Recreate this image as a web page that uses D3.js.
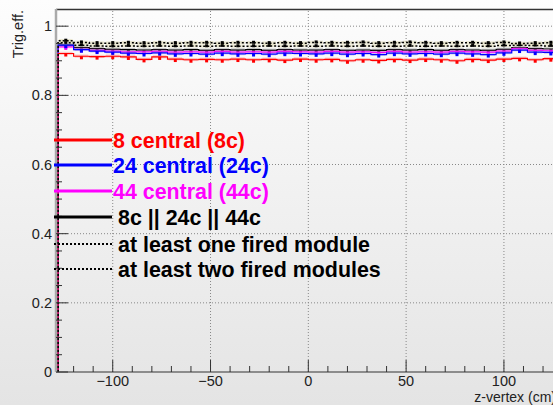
<!DOCTYPE html>
<html>
<head>
<meta charset="utf-8">
<script src="https://cdn.jsdelivr.net/npm/d3@7"></script>
<style>
  body { margin: 0; }
  svg { font-family: "Liberation Sans", Arial, sans-serif; }
</style>
</head>
<body>
<svg id="chart"></svg>
<script>
// bins: 8 cm wide, starting at -128 cm
const binStart = -128, binWidth = 8;
const xTicks = [-100, -50, 0, 50, 100];
const yTicks = [0, 0.2, 0.4, 0.6, 0.8, 1];
const yTickLabels = ['0', '0.2', '0.4', '0.6', '0.8', '1'];

const eff8c = [0.921, 0.913, 0.912, 0.913, 0.911, 0.904, 0.911, 0.905, 0.903, 0.904, 0.903, 0.905, 0.903, 0.904, 0.902, 0.905,
               0.903, 0.904, 0.900, 0.903, 0.901, 0.904, 0.902, 0.905, 0.903, 0.900, 0.904, 0.902, 0.905, 0.907, 0.903, 0.906];
const eff24c = [0.945, 0.932, 0.928, 0.925, 0.922, 0.921, 0.923, 0.920, 0.921, 0.919, 0.922, 0.920, 0.921, 0.919, 0.922, 0.921,
                0.920, 0.922, 0.919, 0.921, 0.918, 0.922, 0.920, 0.921, 0.919, 0.922, 0.920, 0.918, 0.923, 0.931, 0.925, 0.924];
const eff44c = [0.940, 0.933, 0.930, 0.928, 0.926, 0.926, 0.927, 0.925, 0.926, 0.925, 0.927, 0.925, 0.926, 0.925, 0.927, 0.926,
                0.925, 0.927, 0.925, 0.926, 0.924, 0.927, 0.925, 0.926, 0.925, 0.927, 0.926, 0.925, 0.928, 0.935, 0.930, 0.929];
const effOr = [0.945, 0.938, 0.935, 0.933, 0.932, 0.931, 0.932, 0.931, 0.932, 0.930, 0.932, 0.931, 0.932, 0.930, 0.932, 0.931,
               0.931, 0.932, 0.930, 0.931, 0.930, 0.932, 0.931, 0.932, 0.930, 0.932, 0.931, 0.930, 0.933, 0.938, 0.935, 0.934];
const effOne = [0.958, 0.953, 0.951, 0.951, 0.952, 0.951, 0.952, 0.951, 0.952, 0.952, 0.951, 0.952, 0.952, 0.951, 0.952, 0.951,
                0.953, 0.952, 0.952, 0.953, 0.951, 0.952, 0.953, 0.952, 0.951, 0.952, 0.952, 0.951, 0.953, 0.950, 0.951, 0.952];
const effTwo = [0.952, 0.945, 0.943, 0.942, 0.943, 0.942, 0.943, 0.942, 0.943, 0.942, 0.943, 0.942, 0.942, 0.943, 0.942, 0.943,
                0.942, 0.943, 0.942, 0.943, 0.942, 0.942, 0.943, 0.942, 0.943, 0.942, 0.943, 0.942, 0.944, 0.945, 0.944, 0.943];

const seriesNames = ['8 central (8c)', '24 central (24c)', '44 central (44c)', '8c || 24c || 44c',
                     'at least one fired module', 'at least two fired modules'];

var W = 553, H = 405,
    margin = {top: 9, left: 56, bottom: 33};

var series = [
    {name: seriesNames[0], values: eff8c, color: '#ff0000', band: '#ff6666', dash: null},
    {name: seriesNames[1], values: eff24c, color: '#0000ff', band: '#8888dd', dash: null},
    {name: seriesNames[2], values: eff44c, color: '#ff00ff', band: '#ff88ff', dash: null},
    {name: seriesNames[3], values: effOr, color: '#000000', band: '#666666', dash: null},
    {name: seriesNames[4], values: effOne, color: '#000000', band: '#c8c080', dash: '2,2'},
    {name: seriesNames[5], values: effTwo, color: '#000000', band: '#d4cc8c', dash: '2,2'}
];

var svg = d3.select('#chart').attr('width', W).attr('height', H);

var grad = svg.append('defs').append('linearGradient')
    .attr('id', 'bg').attr('x1', 0).attr('y1', 0).attr('x2', 0).attr('y2', 1);
grad.append('stop').attr('offset', '0%').attr('stop-color', '#fdfdfd');
grad.append('stop').attr('offset', '100%').attr('stop-color', '#e4e4e4');
svg.append('rect').attr('width', W).attr('height', H).attr('fill', 'url(#bg)');

var x = d3.scaleLinear().domain([-129, 129]).range([margin.left, margin.left + 258 * 1.956]);
var y = d3.scaleLinear().domain([0, 1.0497]).range([H - margin.bottom, margin.top]);

// grid
svg.append('g').selectAll('line.gx')
    .data(xTicks).enter().append('line')
    .attr('x1', d => x(d)).attr('x2', d => x(d))
    .attr('y1', y(0)).attr('y2', y.range()[1])
    .attr('stroke', '#888').attr('stroke-width', 1).attr('stroke-dasharray', '1,2');
svg.append('g').selectAll('line.gy')
    .data(yTicks.slice(1)).enter().append('line')
    .attr('x1', x.range()[0]).attr('x2', W)
    .attr('y1', d => y(d)).attr('y2', d => y(d))
    .attr('stroke', '#888').attr('stroke-width', 1).attr('stroke-dasharray', '1,2');

// frame top
svg.append('line')
    .attr('x1', x.range()[0]).attr('x2', W)
    .attr('y1', y.range()[1] + 0.5).attr('y2', y.range()[1] + 0.5)
    .attr('stroke', '#333').attr('stroke-width', 1.5);

var plot = svg.append('g');

function stepPath(vals) {
    var p = d3.path();
    p.moveTo(x(binStart), y(0));
    vals.forEach(function(v, i) {
        var x0 = x(binStart + i * binWidth), x1 = x(binStart + (i + 1) * binWidth);
        p.lineTo(x0, y(v));
        p.lineTo(x1, y(v));
    });
    return p.toString();
}

// solid ones first, red on top of them; dotted ones drawn last
var drawOrder = [3, 2, 1, 0, 5, 4];
drawOrder.forEach(function(k) {
    var s = series[k];
    var g = plot.append('g');
    // error boxes
    g.selectAll('rect').data(s.values).enter().append('rect')
        .attr('x', (d, i) => x(binStart + i * binWidth) + 1)
        .attr('width', x(binWidth) - x(0) - 2)
        .attr('y', d => y(d + 0.005))
        .attr('height', d => y(d - 0.004) - y(d + 0.005))
        .attr('fill', s.band).attr('opacity', 0.35);
    g.append('path')
        .attr('d', stepPath(s.values))
        .attr('fill', 'none')
        .attr('stroke', s.color)
        .attr('stroke-width', s.dash ? 1.5 : 1.2)
        .attr('stroke-dasharray', s.dash);
    // markers
    g.selectAll('rect.m').data(s.values).enter().append('rect')
        .attr('class', 'm')
        .attr('x', (d, i) => x(binStart + (i + 0.5) * binWidth) - 1.5)
        .attr('y', d => y(d) + (s.dash ? -2 : 0))
        .attr('width', 3).attr('height', 3)
        .attr('fill', s.color);
});

// axes
var xAxis = svg.append('g').attr('transform', 'translate(0,' + y(0) + ')');
xAxis.append('line').attr('x1', x.range()[0]).attr('x2', W).attr('stroke', '#333').attr('stroke-width', 1.2);
xAxis.selectAll('line.minor').data(d3.range(-120, 130, 10)).enter().append('line')
    .attr('x1', d => x(d)).attr('x2', d => x(d))
    .attr('y1', 0).attr('y2', d => d % 50 === 0 ? -12 : -6)
    .attr('stroke', '#333').attr('stroke-width', 1);
xAxis.selectAll('text').data(xTicks).enter().append('text')
    .attr('x', d => x(d)).attr('y', 14)
    .attr('text-anchor', 'middle')
    .attr('font-size', 14.5).attr('fill', '#222')
    .text(d => d3.format('d')(d).replace('-', '\u2212'));
svg.append('text')
    .attr('x', 556).attr('y', 402)
    .attr('text-anchor', 'end').attr('font-size', 14).attr('fill', '#222')
    .text('z-vertex (cm)');

var yAxis = svg.append('g').attr('transform', 'translate(' + x.range()[0] + ',0)');
yAxis.append('line').attr('y1', y(0)).attr('y2', y.range()[1])
    .attr('stroke', '#aaa').attr('stroke-width', 2.5);
yAxis.selectAll('line.minor').data(d3.range(0, 1.05, 0.05)).enter().append('line')
    .attr('y1', d => y(d)).attr('y2', d => y(d))
    .attr('x1', 0).attr('x2', (d, i) => i % 4 === 0 ? 12 : 6)
    .attr('stroke', '#333').attr('stroke-width', 1);
yAxis.selectAll('text').data(yTicks).enter().append('text')
    .attr('x', -4).attr('y', d => y(d) + 5)
    .attr('text-anchor', 'end')
    .attr('font-size', 14.5).attr('fill', '#222')
    .text((d, i) => yTickLabels[i]);
svg.append('text')
    .attr('transform', 'translate(23,10) rotate(-90)')
    .attr('text-anchor', 'end').attr('font-size', 14.5).attr('fill', '#222')
    .text('Trig.eff.');

// legend
var legY = [140, 165, 191, 217, 244, 269];
var legend = svg.append('g');
series.forEach(function(s, i) {
    legend.append('line')
        .attr('x1', 54).attr('x2', 112)
        .attr('y1', legY[i]).attr('y2', legY[i])
        .attr('stroke', s.color)
        .attr('stroke-width', s.dash ? 2 : 3)
        .attr('stroke-dasharray', s.dash);
    legend.append('text')
        .attr('x', i < 3 ? 113 : 118).attr('y', legY[i] + 7.5)
        .attr('font-size', 21.4).attr('font-weight', 'bold')
        .attr('fill', s.color)
        .text(s.name);
});
</script>
</body>
</html>
